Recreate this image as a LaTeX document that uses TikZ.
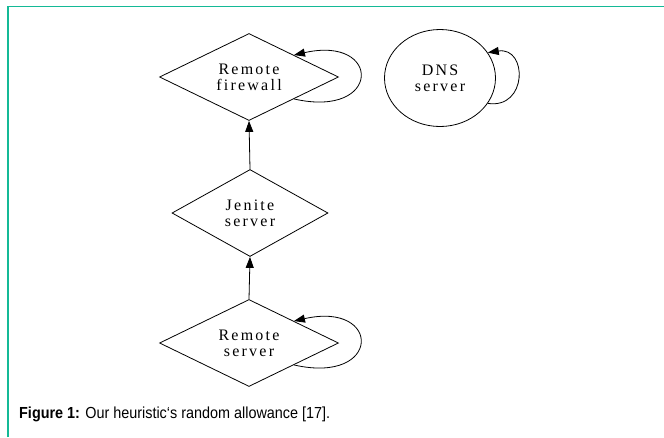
\documentclass[tikz,border=0pt]{standalone}
\usepackage{fontspec}
\setmainfont{Liberation Serif}
\newfontfamily\capfont[FakeStretch=0.9]{Liberation Sans}
\newfontfamily\nodefont[LetterSpace=14]{Liberation Serif}
\usetikzlibrary{shapes.geometric,arrows.meta}
\definecolor{frameteal}{RGB}{20,185,150}
\begin{document}
\begin{tikzpicture}[x=1pt,y=-1pt,
  dia/.style={diamond,draw,line width=0.8pt,minimum width=179pt,minimum height=87pt,inner sep=0pt,aspect=2,
    font=\nodefont\fontsize{16}{16}\selectfont,align=center},
  circ/.style={ellipse,draw,line width=0.8pt,minimum width=111pt,minimum height=97pt,inner sep=0pt,
    font=\nodefont\fontsize{16}{16}\selectfont,align=center},
  arr/.style={line width=0.8pt,-{Triangle[length=11pt,width=8pt]}},
  frame/.style={draw=frameteal,line width=1.5pt}]
\useasboundingbox (0,0) rectangle (664,437);
\draw[frame] (8,437) -- (8,6.5) -- (664,6.5);
\node[dia] (rf) at (249,77) {Remote\\firewall};
\node[dia,minimum width=156pt] (js) at (250,213) {Jenite\\server};
\node[dia] (rs) at (249,343) {Remote\\server};
\node[circ] (dns) at (440,78) {DNS\\server};
\draw[arr] (js.north) -- (rf.south);
\draw[arr] (rs.north) -- (js.south);
\draw[arr] (rf.south east) .. controls +(88,20) and +(88,-20) .. (rf.north east);
\draw[arr] (rs.south east) .. controls +(88,20) and +(88,-20) .. (rs.north east);
\draw[arr] (dns.-28) .. controls +(40,6) and +(40,-6) .. (dns.28);
\node[anchor=base west,inner sep=0pt,font=\capfont\fontsize{16}{18}\selectfont] (cap) at (19,418)
  {\textbf{Figure 1:} Our heuristic‘s random allowance [17].};
\end{tikzpicture}
\end{document}
